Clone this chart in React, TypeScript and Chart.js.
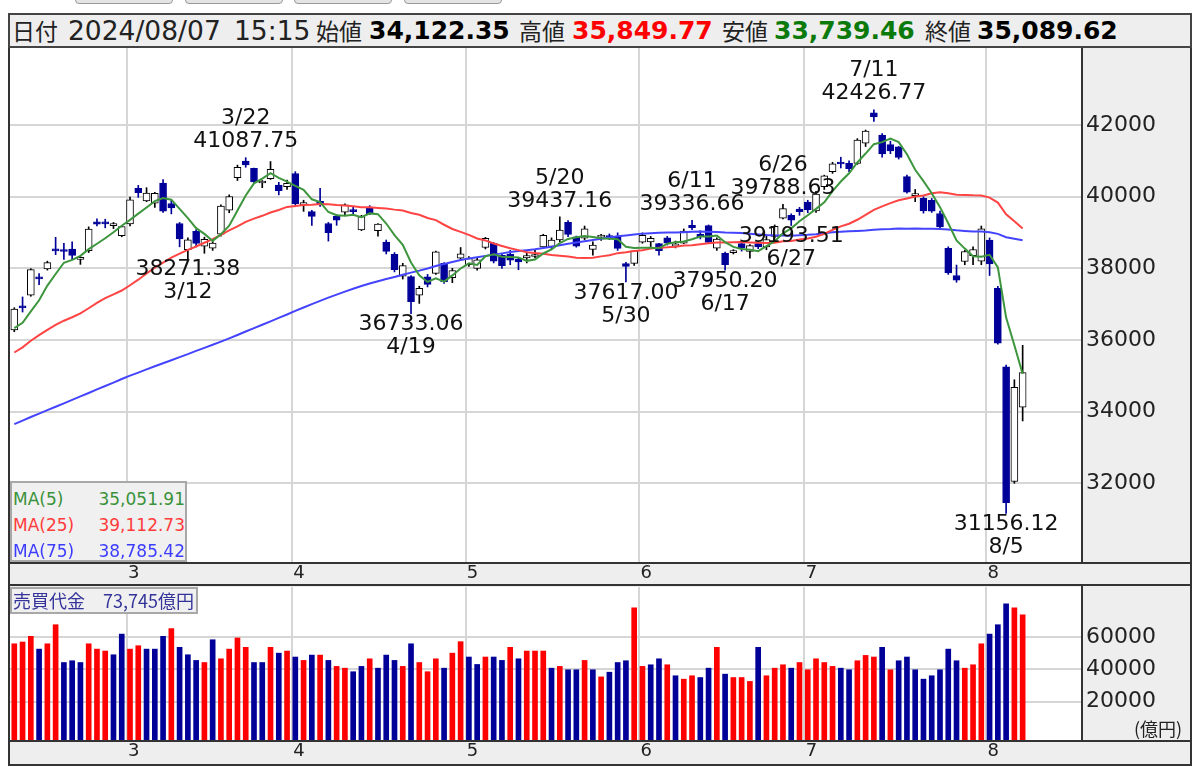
import React, { useEffect, useRef } from "react";
import { Chart, registerables } from "chart.js";

Chart.register(...registerables);

// ---------- data ----------
const dates = [
  "2/8", "2/9", "2/13", "2/14", "2/15", "2/16", "2/19", "2/20", "2/21", "2/22", "2/26", "2/27", "2/28", "2/29",
  "3/1", "3/4", "3/5", "3/6", "3/7", "3/8", "3/11", "3/12", "3/13", "3/14", "3/15", "3/18", "3/19", "3/21", "3/22", "3/25", "3/26", "3/27", "3/28", "3/29",
  "4/1", "4/2", "4/3", "4/4", "4/5", "4/8", "4/9", "4/10", "4/11", "4/12", "4/15", "4/16", "4/17", "4/18", "4/19", "4/22", "4/23", "4/24", "4/25", "4/26", "4/30",
  "5/1", "5/2", "5/7", "5/8", "5/9", "5/10", "5/13", "5/14", "5/15", "5/16", "5/17", "5/20", "5/21", "5/22", "5/23", "5/24", "5/27", "5/28", "5/29", "5/30", "5/31",
  "6/3", "6/4", "6/5", "6/6", "6/7", "6/10", "6/11", "6/12", "6/13", "6/14", "6/17", "6/18", "6/19", "6/20", "6/21", "6/24", "6/25", "6/26", "6/27", "6/28",
  "7/1", "7/2", "7/3", "7/4", "7/5", "7/8", "7/9", "7/10", "7/11", "7/12", "7/16", "7/17", "7/18", "7/19", "7/22", "7/23", "7/24", "7/25", "7/26", "7/29", "7/30", "7/31",
  "8/1", "8/2", "8/5", "8/6", "8/7",
];

const opens = [
  36280, 36950, 37250, 37760, 37980, 38540, 38510, 38540, 38250, 38490,
  39300, 39290, 39190, 38910, 39240, 40230, 39880, 39820, 40380, 39810,
  39250, 38520, 39030, 38620, 38560, 38950, 39620, 40530, 40990, 40790,
  40380, 40500, 40320, 40280, 40646, 39760, 39580, 39870, 39250, 39450,
  39570, 39640, 39070, 39710, 39050, 38730, 38390, 37780, 37770, 37250,
  37760, 37860, 38140, 37740, 38280, 38100, 38000, 38580, 38700, 38360,
  38400, 38260, 38290, 38330, 38600, 38610, 38790, 39280, 38880, 38840,
  38530, 38870, 38900, 38880, 38130, 38140, 38730, 38740, 38690, 38850,
  38620, 38700, 39200, 38950, 39190, 38560, 38420, 38440, 38690, 38470,
  38690, 38600, 38890, 39400, 39480, 39650, 39850, 39600, 40280, 40700,
  40960, 40930, 40930, 41490, 42340, 41720, 41450, 41390, 40560, 40030,
  39950, 39900, 39530, 38560, 37800, 38190, 38350, 38200, 38790, 37440,
  35250, 32050, 34122.35,
];

const highs = [
  36900, 37200, 37990, 37850, 38200, 38865, 38700, 38740, 38330, 39156,
  39380, 39370, 39280, 39190, 39990, 40314, 40250, 40120, 40480, 39900,
  39280, 38850, 39080, 38870, 38800, 39770, 40050, 40880, 41087.75, 40800,
  40450, 40980, 40400, 40460, 40697, 39900, 39620, 40230, 39280, 39500,
  39800, 39700, 39480, 39750, 39250, 38790, 38440, 38140, 37800, 37500,
  37830, 38480, 38160, 38000, 38580, 38330, 38280, 38863, 38720, 38400,
  38500, 38300, 38460, 38520, 38950, 38850, 39437.16, 39330, 38900, 39180,
  38740, 38950, 38960, 38990, 38170, 38500, 38990, 38890, 38700, 38890,
  38760, 39100, 39336.66, 39050, 39210, 38850, 38450, 38520, 38720, 38660,
  38750, 38920, 39210, 39788.63, 39520, 39700, 39900, 40150, 40600, 40960,
  41100, 41000, 41620, 41860, 42426.77, 41760, 41550, 41400, 40600, 40200,
  40000, 39950, 39600, 38600, 38090, 38500, 38600, 39180, 38850, 37500,
  35300, 34890, 35849.77,
];

const lows = [
  36230, 36780, 37220, 37540, 37950, 38380, 38250, 38250, 38110, 38440,
  39180, 39130, 39110, 38880, 39180, 39980, 39860, 39700, 39560, 39520,
  38600, 38271.38, 38600, 38420, 38500, 38900, 39550, 40450, 40820, 40390,
  40250, 40480, 40050, 40200, 39718, 39590, 39200, 39730, 38760, 39200,
  39500, 39500, 39050, 39500, 38900, 38400, 37900, 37700, 36733.06, 37020,
  37480, 37830, 37580, 37600, 38220, 38050, 37950, 38540, 38150, 38000,
  38100, 37960, 38150, 38290, 38580, 38550, 38740, 38880, 38590, 38800,
  38370, 38780, 38800, 38500, 37617.0, 38080, 38700, 38590, 38370, 38650,
  38570, 38690, 39080, 38820, 38700, 38500, 37950.2, 38400, 38480, 38280,
  38550, 38520, 38850, 39380, 39193.51, 39480, 39550, 39560, 40200, 40650,
  40800, 40700, 40900, 41400, 42100, 41100, 41200, 41050, 40100, 39860,
  39540, 39560, 39100, 37830, 37611, 38100, 38100, 38100, 37800, 35880,
  31156.12, 32000, 33739.46,
];

const closes = [
  36863, 36897, 37963, 37703, 38157, 38487, 38470, 38363, 38262, 39098,
  39233, 39239, 39208, 39166, 39910, 40109, 40097, 40090, 39598, 39688,
  38820, 38797, 38695, 38807, 38707, 39740, 40003, 40815, 40888, 40414,
  40398, 40762, 40168, 40369, 39803, 39838, 39451, 39773, 38992, 39347,
  39773, 39581, 39442, 39523, 39232, 38471, 37961, 38079, 37068, 37438,
  37552, 38460, 37628, 37934, 38405, 38274, 38236, 38835, 38202, 38073,
  38229, 38179, 38356, 38385, 38920, 38787, 39069, 38946, 38617, 39103,
  38646, 38900, 38855, 38556, 38054, 38487, 38923, 38837, 38490, 38703,
  38683, 39038, 39134, 38876, 38720, 38814, 38102, 38482, 38570, 38633,
  38596, 38804, 39173, 39667, 39341, 39583, 39631, 40074, 40580, 40913,
  40912, 40780, 41580, 41831, 42224, 41190, 41275, 41097, 40126, 40063,
  39599, 39594, 39154, 37869, 37667, 38468, 38525, 39101, 38126, 35909,
  31458, 34675, 35089.62,
];

// previous session close (2/7), used only for the colour of the first turnover bar
const prevClose = 36119.92;

// 売買代金 (億円)
const volumes = [
  55800, 56900, 60400, 52500, 55800, 67600, 44200, 45300, 44200, 55800,
  52500, 51300, 49000, 61800, 52500, 54600, 52500, 52500, 60400, 65200,
  53600, 49000, 45500, 44200, 58300, 46500, 52500, 59400, 53600, 44200,
  44200, 53600, 50000, 51300, 47600, 45500, 48800, 48800, 45500, 41800,
  40700, 38500, 41800, 46500, 40700, 48800, 45500, 41800, 55800, 44200,
  38500, 46500, 40700, 50000, 57100, 47600, 43000, 47600, 47600, 45500,
  53600, 46500, 51300, 51300, 51300, 40700, 41800, 39700, 39700, 45500,
  39700, 35300, 38200, 44200, 45300, 78000, 41800, 42800, 46500, 42800,
  36000, 33900, 36000, 34900, 40700, 53600, 37000, 34900, 34900, 32500,
  53600, 36000, 40700, 42800, 40700, 44200, 39700, 46500, 44200, 41800,
  40700, 39700, 45300, 48600, 47600, 53600, 39700, 45300, 47600, 39700,
  33900, 36000, 39700, 52500, 45300, 40700, 42800, 55800, 61800, 67600,
  80500, 78000, 73745,
];

const ma5 = [
  36331, 36479, 36800, 37109, 37517, 37841, 38156, 38236, 38348, 38536,
  38685, 38839, 39008, 39189, 39351, 39526, 39698, 39874, 39961, 39916,
  39659, 39399, 39120, 38961, 38765, 38949, 39190, 39614, 40031, 40372,
  40504, 40655, 40526, 40422, 40300, 40188, 39926, 39847, 39571, 39480,
  39467, 39493, 39427, 39533, 39510, 39250, 38926, 38653, 38162, 37803,
  37620, 37719, 37629, 37802, 37996, 38140, 38095, 38337, 38390, 38324,
  38315, 38304, 38208, 38244, 38414, 38525, 38703, 38821, 38868, 38904,
  38876, 38842, 38824, 38812, 38602, 38570, 38575, 38571, 38558, 38688,
  38727, 38750, 38810, 38887, 38890, 38916, 38729, 38599, 38538, 38520,
  38477, 38617, 38755, 38975, 39116, 39314, 39479, 39659, 39842, 40156,
  40422, 40652, 40953, 41203, 41465, 41521, 41620, 41523, 41182, 40750,
  40432, 40096, 39707, 39256, 38777, 38550, 38337, 38326, 38377, 38026,
  36624, 35854, 35051.91,
];

const ma25 = [
  35650, 35794, 35977, 36135, 36284, 36421, 36537, 36635, 36741, 36886,
  37037, 37168, 37274, 37380, 37527, 37682, 37856, 38019, 38160, 38296,
  38408, 38514, 38608, 38714, 38817, 38932, 39056, 39170, 39298, 39388,
  39465, 39556, 39628, 39713, 39741, 39765, 39774, 39796, 39789, 39767,
  39753, 39733, 39707, 39704, 39686, 39672, 39638, 39613, 39544, 39493,
  39406, 39344, 39216, 39098, 39018, 38933, 38832, 38779, 38692, 38623,
  38558, 38507, 38451, 38427, 38409, 38370, 38350, 38330, 38293, 38288,
  38295, 38333, 38364, 38423, 38448, 38485, 38504, 38552, 38575, 38586,
  38603, 38635, 38647, 38674, 38700, 38723, 38720, 38725, 38732, 38721,
  38713, 38703, 38712, 38754, 38763, 38801, 38830, 38879, 38960, 39074,
  39171, 39245, 39355, 39489, 39630, 39730, 39819, 39898, 39948, 40002,
  40033, 40093, 40120, 40092, 40053, 40048, 40037, 40034, 39972, 39835,
  39510, 39312, 39112.73,
];

const ma75 = [
  33650, 33750, 33850, 33945, 34040, 34135, 34230, 34330, 34425, 34520,
  34620, 34715, 34810, 34910, 35005, 35090, 35180, 35265, 35350, 35435,
  35520, 35605, 35695, 35780, 35865, 35955, 36045, 36140, 36235, 36330,
  36425, 36520, 36615, 36710, 36810, 36905, 37000, 37090, 37180, 37265,
  37350, 37430, 37505, 37575, 37640, 37700, 37760, 37820, 37880, 37935,
  37996, 38065, 38121, 38177, 38230, 38273, 38308, 38347, 38382, 38417,
  38453, 38483, 38507, 38532, 38568, 38602, 38646, 38685, 38719, 38757,
  38792, 38828, 38862, 38894, 38919, 38941, 38968, 38980, 38990, 38998,
  39000, 39008, 39018, 39026, 39021, 39016, 39000, 38991, 38983, 38966,
  38946, 38928, 38916, 38917, 38912, 38923, 38934, 38952, 38976, 39005,
  39021, 39031, 39041, 39054, 39078, 39089, 39095, 39108, 39105, 39108,
  39105, 39107, 39098, 39084, 39061, 39044, 39030, 39025, 39006, 38962,
  38869, 38825, 38785.42,
];

const priceTicks = [32000, 34000, 36000, 38000, 40000, 42000];
const volumeTicks = [20000, 40000, 60000];
const highMarks = ["3/22", "5/20", "6/11", "6/26", "7/11"];
const lowMarks = ["3/12", "4/19", "5/30", "6/17", "6/27", "8/5"];
const headerStamp = "2024/08/07 15:15";

// ---------- style ----------
const FONT = '"DejaVu Sans", Verdana, sans-serif';
const JP = '"Noto Sans CJK JP", "DejaVu Sans", sans-serif';
const NAVY = "#000099";
const RED = "#ff0000";
const GRID = "#d6d6d6";
const FRAME = "#333333";
const PANEL = "#eeeeee";

const X_MIN = -0.52;
const X_MAX = 129.06;
const GRID_SHIFT = 0.4;

const monthStarts = dates
  .map((d, i) => (i > 0 && d.split("/")[0] !== dates[i - 1].split("/")[0] ? i : -1))
  .filter((i) => i >= 0);
const monthLabels = monthStarts.map((i) => dates[i].split("/")[0]);

const fmt2 = (v: number) =>
  v.toLocaleString("en-US", { minimumFractionDigits: 2, maximumFractionDigits: 2 });

function xAxis(height: number) {
  return {
    type: "linear",
    min: X_MIN,
    max: X_MAX,
    offset: false,
    bounds: "data",
    afterBuildTicks: (s: any) => {
      s.ticks = monthStarts.map((i) => ({ value: i - GRID_SHIFT }));
    },
    afterFit: (s: any) => {
      s.height = height;
      s.paddingLeft = 0;
      s.paddingRight = 0;
      s.paddingTop = 0;
      s.paddingBottom = 0;
    },
    grid: { color: GRID, lineWidth: 2, drawTicks: false, offset: false },
    border: { display: false },
    ticks: {
      autoSkip: false,
      maxRotation: 0,
      minRotation: 0,
      padding: 1,
      labelOffset: 7,
      color: "#222",
      font: { family: FONT, size: 18 },
      callback: (v: number) => {
        const k = monthStarts.findIndex((i) => Math.abs(i - GRID_SHIFT - v) < 1e-6);
        return k >= 0 ? monthLabels[k] : "";
      },
    },
  };
}

function yAxis(min: number, max: number, ticks: number[]) {
  return {
    position: "right",
    min,
    max,
    bounds: "data",
    beginAtZero: false,
    afterBuildTicks: (s: any) => {
      s.ticks = ticks.map((v) => ({ value: v }));
    },
    afterFit: (s: any) => {
      s.width = 111;
      s.paddingTop = 0;
      s.paddingBottom = 0;
      s.paddingLeft = 0;
      s.paddingRight = 0;
    },
    grid: { color: GRID, lineWidth: 2, drawTicks: false },
    border: { display: false },
    ticks: {
      padding: 5,
      color: "#222",
      font: { family: FONT, size: 22 },
      callback: (v: number) => String(v),
    },
  };
}

const framePlugin = {
  id: "frame",
  beforeDraw(chart: any) {
    const { ctx, width, height, chartArea: a } = chart;
    ctx.save();
    ctx.fillStyle = PANEL;
    ctx.fillRect(0, 0, width, height);
    ctx.fillStyle = "#ffffff";
    ctx.fillRect(a.left, a.top, a.right - a.left, a.bottom - a.top);
    ctx.restore();
  },
  afterDraw(chart: any) {
    const { ctx, width, height, chartArea: a } = chart;
    ctx.save();
    ctx.fillStyle = FRAME;
    ctx.fillRect(0, 0, 2, height);
    ctx.fillRect(width - 2, 0, 2, height);
    ctx.fillRect(a.right, 0, 2, a.bottom);
    ctx.fillRect(0, a.bottom, width, 2);
    ctx.fillRect(0, height - 2, width, 2);
    ctx.restore();
  },
};

const markPlugin = {
  id: "marks",
  afterDatasetsDraw(chart: any) {
    const { ctx } = chart;
    const x = chart.scales.x;
    const y = chart.scales.y;
    ctx.save();
    ctx.fillStyle = "#111";
    ctx.font = `22px ${FONT}`;
    ctx.textAlign = "center";
    ctx.textBaseline = "middle";
    highMarks.forEach((d) => {
      const i = dates.indexOf(d);
      const px = x.getPixelForValue(i);
      const py = y.getPixelForValue(highs[i]);
      ctx.fillText(highs[i].toFixed(2), px, py - 16);
      ctx.fillText(d, px, py - 39);
    });
    lowMarks.forEach((d) => {
      const i = dates.indexOf(d);
      const px = x.getPixelForValue(i);
      const py = y.getPixelForValue(lows[i]);
      ctx.fillText(lows[i].toFixed(2), px, py + 11);
      ctx.fillText(d, px, py + 34);
    });
    ctx.restore();
  },
};

const idx = closes.map((_, i) => i);
const up = closes.map((c, i) => c >= opens[i]);
const volUp = closes.map((c, i) => c >= (i === 0 ? prevClose : closes[i - 1]));

function priceConfig(): any {
  const line = (arr: number[], color: string, order: number) => ({
    type: "line",
    data: arr.map((v, i) => ({ x: i, y: v })),
    borderColor: color,
    borderWidth: 2,
    pointRadius: 0,
    tension: 0,
    fill: false,
    order,
  });
  return {
    type: "bar",
    data: {
      datasets: [
        line(ma5, "#3d963d", 0),
        line(ma25, "#ff4444", 1),
        line(ma75, "#4444ff", 2),
        {
          type: "bar",
          data: idx.map((i) => ({ x: i, y: [opens[i], closes[i]] })),
          backgroundColor: up.map((u) => (u ? "#ffffff" : NAVY)),
          borderColor: up.map((u) => (u ? "#000000" : NAVY)),
          borderWidth: 1,
          borderSkipped: false,
          barThickness: 7,
          minBarLength: 2,
          grouped: false,
          order: 3,
        },
        {
          type: "bar",
          data: idx.map((i) => ({ x: i, y: [lows[i], highs[i]] })),
          backgroundColor: up.map((u) => (u ? "#000000" : NAVY)),
          borderWidth: 0,
          barThickness: 1,
          grouped: false,
          order: 4,
        },
      ],
    },
    options: {
      responsive: false,
      animation: false,
      devicePixelRatio: 1,
      events: [],
      layout: { padding: { left: 2, top: 0, right: 0, bottom: 0 } },
      plugins: { legend: { display: false }, tooltip: { enabled: false } },
      scales: {
        x: xAxis(24),
        y: yAxis(29803, 44149, priceTicks),
      },
    },
    plugins: [framePlugin, markPlugin],
  };
}

const VOL_MIN = -3777;
const VOL_MAX = 90960;

function volumeConfig(): any {
  return {
    type: "bar",
    data: {
      datasets: [
        {
          type: "bar",
          data: idx.map((i) => ({ x: i, y: volumes[i] })),
          base: VOL_MIN,
          backgroundColor: volUp.map((u) => (u ? RED : NAVY)),
          borderWidth: 0,
          barThickness: 5,
          grouped: false,
        },
      ],
    },
    options: {
      responsive: false,
      animation: false,
      devicePixelRatio: 1,
      events: [],
      layout: { padding: { left: 2, top: 1, right: 0, bottom: 0 } },
      plugins: { legend: { display: false }, tooltip: { enabled: false } },
      scales: {
        x: xAxis(26),
        y: yAxis(VOL_MIN, VOL_MAX, volumeTicks),
      },
    },
    plugins: [framePlugin],
  };
}

const last = closes.length - 1;

export default function App() {
  const priceRef = useRef<HTMLCanvasElement>(null);
  const volRef = useRef<HTMLCanvasElement>(null);

  useEffect(() => {
    const pc = new Chart(priceRef.current as HTMLCanvasElement, priceConfig());
    const vc = new Chart(volRef.current as HTMLCanvasElement, volumeConfig());
    return () => {
      pc.destroy();
      vc.destroy();
    };
  }, []);

  const [stampDate, stampTime] = headerStamp.split(" ");
  const headerItems: { t: string; x: number; kind: "label" | "plain" | "num"; color?: string }[] = [
    { t: "日付", x: 12, kind: "label" },
    { t: stampDate, x: 68, kind: "plain" },
    { t: stampTime, x: 234, kind: "plain" },
    { t: "始値", x: 316, kind: "label" },
    { t: fmt2(opens[last]), x: 369, kind: "num", color: "#000" },
    { t: "高値", x: 519, kind: "label" },
    { t: fmt2(highs[last]), x: 572, kind: "num", color: RED },
    { t: "安値", x: 722, kind: "label" },
    { t: fmt2(lows[last]), x: 774, kind: "num", color: "#0b7a0b" },
    { t: "終値", x: 925, kind: "label" },
    { t: fmt2(closes[last]), x: 977, kind: "num", color: "#000" },
  ];

  const legendRows = [
    { name: "MA(5)", v: ma5[last], color: "#3a923a" },
    { name: "MA(25)", v: ma25[last], color: "#ff3c3c" },
    { name: "MA(75)", v: ma75[last], color: "#3c3cff" },
  ];

  const buttons = [75, 185, 294, 404];

  return (
    <div style={{ position: "absolute", left: 0, top: 0, width: 1200, height: 767, overflow: "hidden", background: "#fff" }}>
      {buttons.map((bx) => (
        <div
          key={bx}
          style={{
            position: "absolute",
            left: bx,
            top: -21,
            width: 98,
            height: 25,
            boxSizing: "border-box",
            border: "1px solid #9a9a9a",
            borderRadius: 4,
            background: "#e4e4e4",
          }}
        />
      ))}

      <div
        style={{
          position: "absolute",
          left: 8,
          top: 13,
          width: 1184,
          height: 35,
          boxSizing: "border-box",
          border: "2px solid #444",
          background: PANEL,
        }}
      >
        {headerItems.map((h, k) => (
          <span
            key={k}
            style={{
              position: "absolute",
              left: h.x - 10,
              top: 0,
              lineHeight: "31px",
              whiteSpace: "nowrap",
              fontFamily: h.kind === "label" ? JP : FONT,
              fontSize: h.kind === "label" ? 23 : h.kind === "plain" ? 26.5 : 25,
              fontWeight: h.kind === "num" ? "bold" : "normal",
              color: h.color || "#222",
            }}
          >
            {h.t}
          </span>
        ))}
      </div>

      <canvas ref={priceRef} width={1184} height={538} style={{ position: "absolute", left: 8, top: 48 }} />
      <canvas ref={volRef} width={1184} height={180} style={{ position: "absolute", left: 8, top: 586 }} />

      <div
        style={{
          position: "absolute",
          left: 10,
          top: 481,
          width: 177,
          height: 81,
          boxSizing: "border-box",
          border: "2px solid #a8a8a8",
          background: "#f0f0f0",
        }}
      >
        {legendRows.map((r, k) => (
          <div
            key={r.name}
            style={{
              position: "absolute",
              left: 0,
              top: 3 + k * 26,
              width: 173,
              height: 26,
              lineHeight: "26px",
              fontFamily: FONT,
              fontSize: 17,
              color: r.color,
            }}
          >
            <span style={{ position: "absolute", left: 1 }}>{r.name}</span>
            <span style={{ position: "absolute", right: 0 }}>{fmt2(r.v)}</span>
          </div>
        ))}
      </div>

      <div
        style={{
          position: "absolute",
          left: 10,
          top: 587,
          width: 188,
          height: 27,
          boxSizing: "border-box",
          border: "2px solid #a8a8a8",
          background: "#f0f0f0",
          fontFamily: JP,
          fontSize: 18,
          lineHeight: "23px",
          color: "#333399",
          whiteSpace: "nowrap",
          paddingLeft: 1,
        }}
      >
        {"売買代金　" + volumes[last].toLocaleString("en-US") + "億円"}
      </div>

      <div
        style={{
          position: "absolute",
          left: 1134,
          top: 716,
          fontFamily: JP,
          fontSize: 18,
          lineHeight: "24px",
          color: "#222",
          whiteSpace: "nowrap",
        }}
      >
        (億円)
      </div>
    </div>
  );
}
